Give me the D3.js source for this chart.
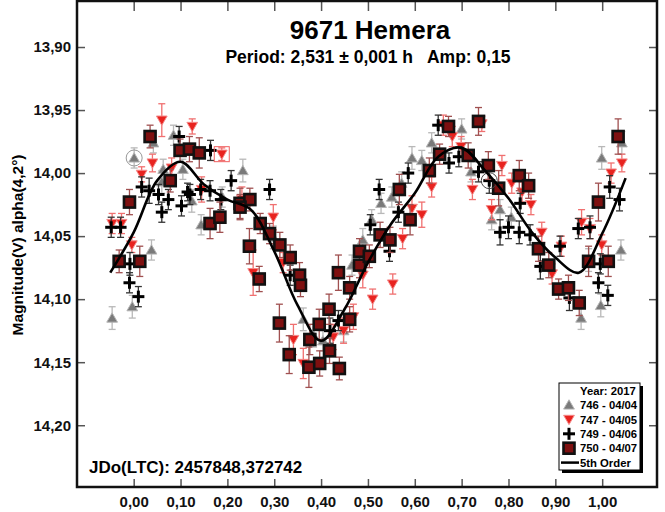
<!DOCTYPE html>
<html>
<head>
<meta charset="utf-8">
<script src="https://cdn.jsdelivr.net/npm/d3@7"></script>
<style>
  body { margin: 0; background: #fff; }
  text { font-family: "Liberation Sans", Arial, sans-serif; font-weight: bold; }
</style>
</head>
<body>
<svg id="chart" width="665" height="512"></svg>
<script>
// [phase, magnitude, error]
const s746 = [
  [0.001, 13.988, 0.008], [0.042, 13.976, 0.008], [0.085, 13.970, 0.008], [0.063, 13.997, 0.008],
  [0.060, 14.007, 0.009], [0.105, 13.997, 0.008], [0.124, 14.022, 0.009], [0.233, 13.998, 0.009],
  [0.144, 14.041, 0.008], [0.038, 14.061, 0.008], [-0.003, 14.106, 0.009], [-0.046, 14.115, 0.009],
  [0.298, 14.051, 0.009], [0.189, 14.019, 0.008], [0.362, 14.116, 0.009], [0.384, 14.129, 0.009],
  [0.404, 14.133, 0.008], [0.448, 14.125, 0.009], [0.466, 14.073, 0.008], [0.489, 14.053, 0.009],
  [0.508, 14.037, 0.008], [0.528, 14.024, 0.008], [0.551, 14.019, 0.008], [0.572, 14.008, 0.009],
  [0.594, 13.988, 0.009], [0.615, 13.990, 0.008], [0.636, 13.976, 0.008], [0.700, 13.965, 0.008],
  [0.720, 13.999, 0.008], [0.782, 14.029, 0.008], [0.764, 14.037, 0.008], [0.806, 14.035, 0.008],
  [0.955, 14.115, 0.009], [0.997, 14.105, 0.009], [1.040, 14.061, 0.008], [0.999, 13.988, 0.009],
  [1.042, 13.976, 0.009], [0.971, 14.069, 0.009]
];
const s747 = [
  [0.060, 13.958, 0.013], [0.125, 13.963, 0.006], [0.188, 13.985, 0.005], [0.040, 13.992, 0.007],
  [0.017, 14.001, 0.006], [0.081, 13.996, 0.008], [0.145, 14.013, 0.010], [-0.046, 14.040, 0.008],
  [-0.026, 14.040, 0.008], [-0.004, 14.057, 0.006], [0.231, 14.021, 0.010], [0.298, 14.035, 0.010],
  [0.255, 14.079, 0.018], [0.319, 14.071, 0.008], [0.341, 14.132, 0.012], [0.362, 14.151, 0.012],
  [0.426, 14.130, 0.010], [0.448, 14.125, 0.010], [0.469, 14.114, 0.010], [0.489, 14.081, 0.010],
  [0.510, 14.100, 0.008], [0.553, 14.088, 0.008], [0.574, 14.052, 0.008], [0.594, 14.028, 0.010],
  [0.615, 14.033, 0.010], [0.636, 14.011, 0.008], [0.661, 13.962, 0.008], [0.680, 13.971, 0.008],
  [0.743, 13.961, 0.006], [0.699, 13.979, 0.008], [0.723, 14.013, 0.008], [0.786, 13.994, 0.008],
  [0.764, 14.029, 0.008], [0.807, 14.008, 0.008], [0.829, 14.015, 0.008], [0.848, 14.025, 0.008],
  [0.871, 14.047, 0.008], [0.893, 14.080, 0.008], [0.913, 14.058, 0.008], [0.956, 14.039, 0.010],
  [0.999, 14.057, 0.008], [1.019, 14.000, 0.008], [1.042, 13.992, 0.007], [0.974, 14.044, 0.008]
];
const s749 = [
  [0.097, 13.971, 0.008], [0.164, 13.982, 0.008], [0.017, 14.011, 0.008], [0.033, 14.014, 0.010],
  [0.053, 14.017, 0.008], [0.074, 14.021, 0.008], [0.060, 14.031, 0.008], [0.102, 14.026, 0.008],
  [0.120, 14.017, 0.008], [0.115, 14.015, 0.007], [0.208, 14.006, 0.008], [0.143, 14.013, 0.008],
  [0.163, 14.014, 0.008], [0.290, 14.013, 0.008], [-0.048, 14.043, 0.008], [-0.028, 14.043, 0.008],
  [-0.008, 14.072, 0.009], [-0.009, 14.087, 0.008], [0.010, 14.098, 0.008], [0.334, 14.081, 0.008],
  [0.419, 14.125, 0.010], [0.437, 14.117, 0.008], [0.505, 14.041, 0.008], [0.546, 14.062, 0.008],
  [0.524, 14.013, 0.008], [0.565, 14.031, 0.008], [0.586, 14.000, 0.008], [0.650, 13.962, 0.008],
  [0.673, 13.992, 0.008], [0.694, 13.987, 0.008], [0.736, 13.999, 0.008], [0.759, 14.006, 0.010],
  [0.825, 14.024, 0.008], [0.782, 14.047, 0.010], [0.800, 14.043, 0.009], [0.823, 14.047, 0.009],
  [0.846, 14.049, 0.008], [0.910, 14.058, 0.008], [0.868, 14.074, 0.010], [0.930, 14.099, 0.010],
  [0.949, 14.044, 0.008], [0.974, 14.043, 0.009], [0.996, 14.072, 0.008], [0.992, 14.087, 0.008],
  [1.012, 14.097, 0.008], [1.016, 14.011, 0.009], [1.037, 14.021, 0.009], [0.186, 14.021, 0.008]
];
const s750 = [
  [0.035, 13.971, 0.009], [0.099, 13.982, 0.009], [0.119, 13.981, 0.010], [0.140, 13.984, 0.012],
  [0.078, 14.006, 0.009], [-0.009, 14.023, 0.010], [-0.031, 14.070, 0.009], [0.013, 14.070, 0.012],
  [0.163, 14.040, 0.012], [0.184, 14.035, 0.012], [0.227, 14.024, 0.012], [0.248, 14.021, 0.009],
  [0.227, 14.027, 0.010], [0.270, 14.040, 0.008], [0.290, 14.048, 0.008], [0.247, 14.058, 0.014],
  [0.268, 14.084, 0.010], [0.312, 14.057, 0.010], [0.334, 14.067, 0.010], [0.354, 14.081, 0.010],
  [0.356, 14.089, 0.009], [0.311, 14.119, 0.015], [0.332, 14.144, 0.015], [0.374, 14.154, 0.016],
  [0.376, 14.132, 0.012], [0.396, 14.120, 0.012], [0.417, 14.108, 0.012], [0.397, 14.151, 0.010],
  [0.418, 14.141, 0.010], [0.439, 14.155, 0.009], [0.437, 14.079, 0.014], [0.461, 14.116, 0.010],
  [0.461, 14.091, 0.009], [0.482, 14.062, 0.010], [0.482, 14.073, 0.010], [0.503, 14.066, 0.009],
  [0.526, 14.049, 0.010], [0.547, 14.053, 0.010], [0.567, 14.013, 0.012], [0.590, 14.037, 0.012],
  [0.631, 13.998, 0.010], [0.653, 13.985, 0.008], [0.672, 13.963, 0.008], [0.714, 13.986, 0.010],
  [0.736, 13.959, 0.011], [0.757, 13.994, 0.011], [0.779, 14.012, 0.014], [0.823, 14.002, 0.012],
  [0.843, 14.010, 0.010], [0.864, 14.060, 0.010], [0.886, 14.073, 0.010], [0.907, 14.092, 0.008],
  [0.928, 14.091, 0.010], [0.951, 14.103, 0.010], [0.971, 14.070, 0.012], [0.992, 14.023, 0.015],
  [1.013, 14.070, 0.012], [1.034, 13.971, 0.014]
];

const fitPhase = [-0.05, 0, 0.05, 0.10, 0.15, 0.20, 0.25, 0.30, 0.35, 0.40, 0.45, 0.50,
  0.55, 0.60, 0.65, 0.70, 0.75, 0.80, 0.85, 0.90, 0.95, 1.00, 1.05];
const fitMag = [14.079, 14.047, 14.006, 13.991, 14.009, 14.021, 14.029, 14.062, 14.105, 14.133,
  14.108, 14.071, 14.040, 14.016, 13.987, 13.980, 13.998, 14.020, 14.047, 14.067, 14.079, 14.048, 14.004];

// points ringed in the original plot
const ringed = [
  { p: 0.001, m: 13.988, shape: 'circle', color: '#999' },
  { p: 0.759, m: 14.006, shape: 'circle', color: '#444' },
  { p: 0.188, m: 13.985, shape: 'box', color: '#f06060' }
];

const xTicks = [0, 0.1, 0.2, 0.3, 0.4, 0.5, 0.6, 0.7, 0.8, 0.9, 1.0];
const yTicks = [13.90, 13.95, 14.00, 14.05, 14.10, 14.15, 14.20];

const legendRows = ['746 - 04/04', '747 - 04/05', '749 - 04/06', '750 - 04/07', '5th Order'];

const svg = d3.select('#chart');
const pLeft = 77, pRight = 657, pTop = 1, pBottom = 487;

const x = d3.scaleLinear().domain([-0.121, 1.117]).range([pLeft, pRight]);
const y = d3.scaleLinear().domain([13.8635, 14.249]).range([pTop, pBottom]);
const fmt = d => d3.format('.2f')(d).replace('.', ',');

// axes
const gx = svg.append('g').attr('transform', `translate(0,${pBottom})`)
  .call(d3.axisBottom(x).tickValues(xTicks).tickSize(-8).tickPadding(9).tickFormat(fmt));
const gy = svg.append('g').attr('transform', `translate(${pLeft},0)`)
  .call(d3.axisLeft(y).tickValues(yTicks).tickSize(-8).tickPadding(6).tickFormat(fmt));
const gxt = svg.append('g').attr('transform', `translate(0,${pTop})`)
  .call(d3.axisTop(x).tickValues(xTicks).tickSize(-10).tickFormat(''));
const gyr = svg.append('g').attr('transform', `translate(${pRight},0)`)
  .call(d3.axisRight(y).tickValues(yTicks).tickSize(-8).tickFormat(''));
[gx, gy, gxt, gyr].forEach(g => {
  g.select('.domain').remove();
  g.selectAll('line').attr('stroke', '#555').attr('stroke-width', 1.5);
  g.selectAll('text').attr('font-size', 15).attr('fill', '#111')
    .style('font-family', '"Liberation Sans", Arial, sans-serif').style('font-weight', 'bold');
});

svg.append('rect').attr('x', pLeft).attr('y', pTop).attr('width', pRight - pLeft).attr('height', pBottom - pTop)
  .attr('fill', 'none').attr('stroke', '#111').attr('stroke-width', 2.5);

// titles
svg.append('text').attr('x', 370).attr('y', 39).attr('text-anchor', 'middle')
  .attr('font-size', 26).text('9671 Hemera');
svg.append('text').attr('x', 368).attr('y', 63).attr('text-anchor', 'middle')
  .attr('font-size', 17.5).attr('xml:space', 'preserve').text('Period: 2,531 ± 0,001 h   Amp: 0,15');
svg.append('text').attr('transform', 'translate(23,245) rotate(-90)').attr('text-anchor', 'middle')
  .attr('font-size', 15.5).text('Magnitude(V) alpha(4,2°)');
svg.append('text').attr('x', 89).attr('y', 473).attr('font-size', 17).text('JDo(LTC): 2457848,372742');

const plot = svg.append('g');

function errBars(data, color) {
  const g = plot.append('g').attr('stroke', color).attr('stroke-width', 1.3);
  data.forEach(d => {
    const cx = x(d[0]), y1 = y(d[1] - d[2]), y2 = y(d[1] + d[2]);
    g.append('line').attr('x1', cx).attr('x2', cx).attr('y1', y1).attr('y2', y2);
    g.append('line').attr('x1', cx - 3.5).attr('x2', cx + 3.5).attr('y1', y1).attr('y2', y1);
    g.append('line').attr('x1', cx - 3.5).attr('x2', cx + 3.5).attr('y1', y2).attr('y2', y2);
  });
}

const triUp = d3.symbol().type(d3.symbolTriangle).size(50);
const markers = {
  up: (g, cx, cy) => g.append('path').attr('d', triUp()).attr('transform', `translate(${cx},${cy + 1})`)
    .attr('fill', '#7a7a7a').attr('stroke', '#b5b5b5').attr('stroke-width', 1),
  down: (g, cx, cy) => g.append('path').attr('d', triUp()).attr('transform', `translate(${cx},${cy - 1}) rotate(180)`)
    .attr('fill', '#e8231f').attr('stroke', '#f58a8a').attr('stroke-width', 1),
  plus: (g, cx, cy) => {
    g.append('line').attr('x1', cx - 6).attr('x2', cx + 6).attr('y1', cy).attr('y2', cy).attr('stroke', '#000').attr('stroke-width', 3);
    g.append('line').attr('x1', cx).attr('x2', cx).attr('y1', cy - 6).attr('y2', cy + 6).attr('stroke', '#000').attr('stroke-width', 3);
  },
  square: (g, cx, cy) => g.append('rect').attr('x', cx - 5.5).attr('y', cy - 5.5).attr('width', 11).attr('height', 11)
    .attr('fill', '#7e1010').attr('stroke', '#111').attr('stroke-width', 2.6)
};

const series = [
  { data: s746, err: '#b8b8b8', mark: 'up' },
  { data: s747, err: '#f07070', mark: 'down' },
  { data: s749, err: '#333', mark: 'plus' },
  { data: s750, err: '#a05050', mark: 'square' }
];

series.forEach(s => {
  errBars(s.data, s.err);
  const g = plot.append('g');
  s.data.forEach(d => markers[s.mark](g, x(d[0]), y(d[1])));
});

ringed.forEach(r => {
  if (r.shape === 'circle') {
    plot.append('circle').attr('cx', x(r.p)).attr('cy', y(r.m)).attr('r', 8)
      .attr('fill', 'none').attr('stroke', r.color).attr('stroke-width', 1);
  } else {
    plot.append('rect').attr('x', x(r.p) - 7.5).attr('y', y(r.m) - 7.5).attr('width', 15).attr('height', 15)
      .attr('fill', 'none').attr('stroke', r.color).attr('stroke-width', 1);
  }
});

// 5th order fit
const line = d3.line().x(d => x(d[0])).y(d => y(d[1])).curve(d3.curveCatmullRom);
plot.append('path').datum(fitPhase.map((p, i) => [p, fitMag[i]]))
  .attr('d', line).attr('fill', 'none').attr('stroke', '#000').attr('stroke-width', 2.6);

// legend
const lg = svg.append('g').attr('transform', 'translate(559,383)');
lg.append('rect').attr('x', 3).attr('y', 3).attr('width', 81).attr('height', 87).attr('fill', '#000');
lg.append('rect').attr('width', 81).attr('height', 87).attr('fill', '#fff').attr('stroke', '#000').attr('stroke-width', 1);
lg.append('text').attr('x', 21).attr('y', 12).attr('font-size', 11.3).text('Year: 2017');
const legMarks = ['up', 'down', 'plus', 'square'];
legendRows.forEach((t, i) => {
  const cy = 22 + i * 14.4;
  lg.append('text').attr('x', 21).attr('y', cy + 4.2).attr('font-size', 11.3).text(t);
  if (i < 4) markers[legMarks[i]](lg, 10, cy);
  else lg.append('line').attr('x1', 2).attr('x2', 20).attr('y1', cy).attr('y2', cy).attr('stroke', '#000').attr('stroke-width', 2.5);
});
</script>
</body>
</html>
